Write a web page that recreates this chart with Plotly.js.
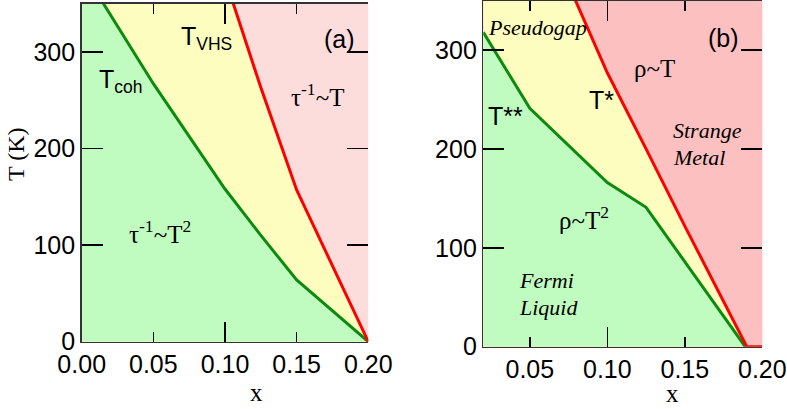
<!DOCTYPE html>
<html>
<head>
<meta charset="utf-8">
<script src="https://cdn.plot.ly/plotly-3.0.1.min.js"></script>
<style>html,body{margin:0;padding:0;background:#fff;}#chart{width:787px;height:409px;}</style>
</head>
<body>
<div id="chart"></div>
<script>
// ---- data ----
// panel (a)
const cohX = [0.00, 0.05, 0.10, 0.125, 0.15, 0.20];   // T_coh
const cohT = [386, 267, 158, 110, 64, 0];
const vhsX = [0.10, 0.125, 0.15, 0.20];                 // T_VHS
const vhsT = [376, 263, 157, 0];
// panel (b)
const tssX = [0.02, 0.05, 0.10, 0.125, 0.189];          // T**
const tssT = [318, 241, 166, 141, 0];
const tsX = [0.075, 0.10, 0.125, 0.15, 0.19, 0.20];     // T*
const tsT = [366, 277, 200, 122, 0, 0];
// ticks
const xTickValsA = [0, 0.05, 0.10, 0.15, 0.20];
const xTickTextA = ['0.00', '0.05', '0.10', '0.15', '0.20'];
const xTickValsB = [0.05, 0.10, 0.15, 0.20];
const xTickTextB = ['0.05', '0.10', '0.15', '0.20'];
const xLongTicks = [0, 0.10, 0.20];
const yTickVals = [0, 100, 200, 300];
const yTickText = ['0', '100', '200', '300'];
const xRangeA = [0, 0.2], xRangeB = [0.02, 0.2], yRange = [0, 350];

// ---- styles ----
const GREEN_FILL = '#c0fcc0', YELLOW_FILL = '#fdfdc0', PINK_A = '#fddcdc', PINK_B = '#fdc0c0';
const GREEN_LINE = '#0e8a0e', RED_LINE = '#ff0000';
const SANS = 'Liberation Sans, Arial, sans-serif';
const SERIF = 'Liberation Serif, Times New Roman, serif';
const W = 787, H = 409;
const px = v => v / W, py = v => 1 - v / H;

function fillTrace(x, y, color, xa, ya) {
  return {x: x, y: y, xaxis: xa, yaxis: ya, mode: 'lines', fill: 'tozeroy',
          fillcolor: color, line: {width: 0, color: color}, hoverinfo: 'skip', showlegend: false};
}
function lineTrace(x, y, color, xa, ya) {
  return {x: x, y: y, xaxis: xa, yaxis: ya, mode: 'lines',
          line: {width: 3, color: color}, showlegend: false};
}
// invisible helper so that the overlay tick axes get their subplot
function helper(x, y, xa, ya) {
  return {x: x, y: y, xaxis: xa, yaxis: ya, mode: 'lines', opacity: 0,
          line: {width: 0, color: 'rgba(0,0,0,0)'}, hoverinfo: 'skip', showlegend: false};
}

const traces = [
  fillTrace([xRangeA[0]].concat(vhsX), [vhsT[0]].concat(vhsT), YELLOW_FILL, 'x', 'y'),
  fillTrace(cohX, cohT, GREEN_FILL, 'x', 'y'),
  lineTrace(cohX, cohT, GREEN_LINE, 'x', 'y'),
  lineTrace(vhsX, vhsT, RED_LINE, 'x', 'y'),
  fillTrace([xRangeB[0]].concat(tsX), [tsT[0]].concat(tsT), YELLOW_FILL, 'x2', 'y2'),
  fillTrace(tssX, tssT, GREEN_FILL, 'x2', 'y2'),
  lineTrace(tssX, tssT, GREEN_LINE, 'x2', 'y2'),
  lineTrace(tsX, tsT, RED_LINE, 'x2', 'y2'),
  helper(cohX, cohT, 'x3', 'y'),
  helper(cohX, cohT, 'x', 'y3'),
  helper(tssX, tssT, 'x4', 'y2'),
  helper(tssX, tssT, 'x2', 'y4')
];

const tickFont = {family: SANS, size: 25, color: '#000'};
function xAxis(domain, range, vals, text, anchor) {
  return {domain: domain, range: range, anchor: anchor, tickvals: vals, ticktext: text,
          ticks: 'inside', ticklen: 10, tickwidth: 1.5, tickcolor: '#000',
          showline: true, linecolor: '#333', linewidth: 1.5, mirror: 'ticks',
          showgrid: false, zeroline: false, tickfont: tickFont, automargin: false, fixedrange: true};
}
function xLong(over, range, anchor) {
  return {overlaying: over, range: range, anchor: anchor, tickvals: xLongTicks,
          ticks: 'inside', ticklen: 20, tickwidth: 1.5, tickcolor: '#000',
          showline: false, mirror: 'ticks', showticklabels: false,
          showgrid: false, zeroline: false, automargin: false, fixedrange: true};
}
function yAxis(domain, anchor) {
  return {domain: domain, range: yRange, anchor: anchor, tickvals: yTickVals, ticktext: yTickText,
          ticks: 'inside', ticklen: 21, tickwidth: 1.5, tickcolor: '#000',
          showline: true, linecolor: '#333', linewidth: 1.5, mirror: false,
          showgrid: false, zeroline: false, tickfont: tickFont, automargin: false, fixedrange: true};
}
function yRight(over, anchor) {
  return {overlaying: over, range: yRange, anchor: anchor, side: 'right', tickvals: yTickVals,
          ticks: 'inside', ticklen: 21, tickwidth: 1.5, tickcolor: '#000',
          showline: false, showticklabels: false, showgrid: false, zeroline: false,
          automargin: false, fixedrange: true};
}

const domXA = [81.7 / W, 368.3 / W], domYA = [1 - 341.7 / H, 1 - 3.5 / H];
const domXB = [483.3 / W, 762.3 / W], domYB = [1 - 346.7 / H, 1 - 0.6 / H];

function ann(text, x, y, font, extra) {
  return Object.assign({text: text, xref: 'paper', yref: 'paper', x: px(x), y: py(y),
    xanchor: 'left', yanchor: 'middle', showarrow: false, font: font}, extra || {});
}
const fSans = {family: SANS, size: 25, color: '#000'};
const fSerif = {family: SERIF, size: 25, color: '#000'};
const fScript = {family: SERIF, size: 22, color: '#000', style: 'italic'};

const annotations = [
  ann('T<sub>VHS</sub>', 179, 38, fSans),
  ann('T<sub>coh</sub>', 97, 81, fSans),
  ann('(a)', 322, 39, fSans),
  ann('\u03c4<sup>-1</sup>~T', 289, 95, fSerif),
  ann('\u03c4<sup>-1</sup>~T<sup>2</sup>', 127, 232, fSerif),
  ann('<i>Pseudogap</i>', 486, 27, fScript),
  ann('T**', 486, 116, fSans),
  ann('T*', 587, 100, fSans),
  ann('\u03c1~T', 632, 68, fSerif),
  ann('(b)', 706, 38, fSans),
  ann('<i>Strange</i>', 671, 130, fScript),
  ann('<i>Metal</i>', 671, 157, fScript),
  ann('\u03c1~T<sup>2</sup>', 557, 218, fSerif),
  ann('<i>Fermi</i>', 517, 280, fScript),
  ann('<i>Liquid</i>', 517, 307, fScript),
  ann('x', 256, 408, fSerif, {xanchor: 'center', yanchor: 'bottom'}),
  ann('x', 672, 409, fSerif, {xanchor: 'center', yanchor: 'bottom'}),
  ann('T (K)', 16, 154, {family: SERIF, size: 24, color: '#000'}, {xanchor: 'center', textangle: -90})
];

const layout = {
  width: W, height: H, margin: {l: 0, r: 0, t: 0, b: 0},
  paper_bgcolor: '#fff', plot_bgcolor: 'rgba(0,0,0,0)', showlegend: false,
  xaxis: xAxis(domXA, xRangeA, xTickValsA, xTickTextA, 'y'),
  yaxis: yAxis(domYA, 'x'),
  xaxis2: xAxis(domXB, xRangeB, xTickValsB, xTickTextB, 'y2'),
  yaxis2: yAxis(domYB, 'x2'),
  xaxis3: xLong('x', xRangeA, 'y'),
  yaxis3: yRight('y', 'x'),
  xaxis4: xLong('x2', xRangeB, 'y2'),
  yaxis4: yRight('y2', 'x2'),
  shapes: [
    {type: 'rect', xref: 'x domain', yref: 'y domain', x0: 0, x1: 1, y0: 0, y1: 1,
     fillcolor: PINK_A, line: {width: 0}, layer: 'below'},
    {type: 'rect', xref: 'x2 domain', yref: 'y2 domain', x0: 0, x1: 1, y0: 0, y1: 1,
     fillcolor: PINK_B, line: {width: 0}, layer: 'below'}
  ],
  annotations: annotations
};

Plotly.newPlot('chart', traces, layout, {staticPlot: true, displayModeBar: false});
</script>
</body>
</html>
